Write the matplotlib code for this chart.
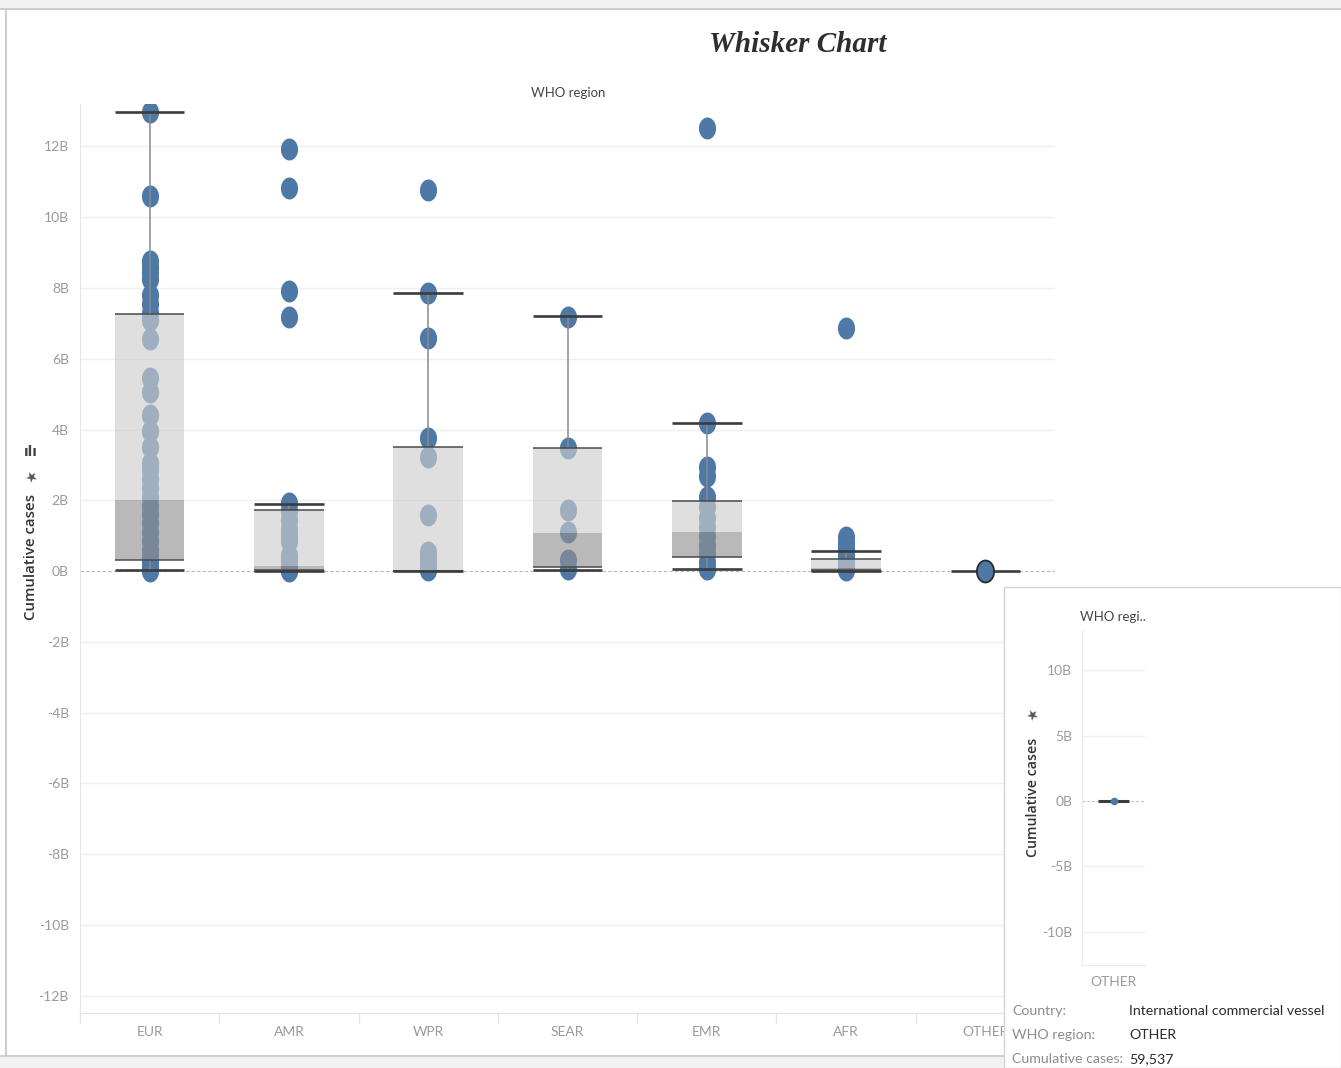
import numpy as np
import matplotlib
matplotlib.use("Agg")
import matplotlib.pyplot as plt
from matplotlib.path import Path
from matplotlib.patches import Rectangle
from matplotlib.lines import Line2D
from matplotlib.ticker import FuncFormatter, FixedLocator

# ---------------- data (billions) ----------------
regions = ["EUR", "AMR", "WPR", "SEAR", "EMR", "AFR", "OTHER"]

eur_cases = [12.97, 10.59, 8.75, 8.6, 8.45, 8.25, 7.8, 7.55, 7.3, 7.1, 6.55, 5.45,
             5.05, 4.4, 3.95, 3.5, 3.05, 2.85, 2.6, 2.35, 2.1, 1.85, 1.6, 1.35,
             1.1, 0.85, 0.6, 0.4, 0.25, 0.12, 0.05, 0.0]
amr_cases = [11.92, 10.82, 7.91, 7.18, 1.92, 1.7, 1.45, 1.2, 1.0, 0.85, 0.45, 0.3,
             0.12, 0.03, 0.0]
wpr_cases = [10.76, 7.85, 6.58, 3.76, 3.22, 1.58, 0.55, 0.4, 0.25, 0.1, 0.02]
sear_cases = [7.18, 3.47, 1.72, 1.1, 0.31, 0.05]
emr_cases = [12.51, 4.18, 2.95, 2.7, 2.09, 1.8, 1.5, 1.25, 1.0, 0.75, 0.5, 0.25, 0.05]
afr_cases = [6.86, 0.95, 0.8, 0.62, 0.45, 0.3, 0.15, 0.03]
other_cases = [0.0000595]

q1 = [0.31, 0.02, 0.01, 0.11, 0.40, 0.02, 0.0000595]
median = [2.0, 0.15, 0.03, 1.07, 1.10, 0.08, 0.0000595]
q3 = [7.26, 1.72, 3.50, 3.47, 1.98, 0.33, 0.0000595]
whisker_lo = [0.02, 0.0, 0.0, 0.02, 0.06, 0.0, 0.0000595]
whisker_hi = [12.97, 1.89, 7.85, 7.20, 4.18, 0.57, 0.0000595]

y_ticks = [-12, -10, -8, -6, -4, -2, 0, 2, 4, 6, 8, 10, 12]
inset_ticks = [-10, -5, 0, 5, 10]

tooltip_keys = ["Country:", "WHO region:", "Cumulative cases:"]
tooltip_vals = ["International commercial vessel", "OTHER", "59,537"]

all_cases = [eur_cases, amr_cases, wpr_cases, sear_cases, emr_cases, afr_cases, other_cases]

# ---------------- style ----------------
NARROW = "Lato"
BLUE = "#4e79a7"
W, H = 1341, 1068
fig = plt.figure(figsize=(W / 100, H / 100), dpi=100)
fig.patch.set_facecolor("white")

def fx(px):
    return px / W

def fy(py):
    return 1 - py / H

# ellipse marker (taller than wide)
t = np.linspace(0, 2 * np.pi, 64)
ell = Path(np.c_[0.78 * np.cos(t), np.sin(t)], closed=True)

# ---------------- main axes ----------------
ax = fig.add_axes([fx(80), fy(1013), fx(1055 - 80), (1013 - 104) / H])
ax.set_xlim(-0.5, 6.5)
ax.set_ylim(-12.49, 13.2)

for y in y_ticks:
    if y == 0:
        continue
    ax.axhline(y, color="#efefef", lw=1, zorder=0)
ax.axhline(0, color="#b8b8b8", lw=0.8, ls=(0, (3, 2)), zorder=1)

bw = 0.5
for i, vals in enumerate(all_cases):
    xs = np.full(len(vals), i)
    if regions[i] == "OTHER":
        continue
    ax.scatter(xs, vals, s=250, marker=ell, color=BLUE, linewidths=0, zorder=2)

for i in range(len(regions)):
    if regions[i] == "OTHER":
        continue
    ax.add_patch(Rectangle((i - bw / 2, median[i]), bw, q3[i] - median[i],
                           facecolor=(206 / 255,) * 3, alpha=0.64, lw=0, zorder=3))
    ax.add_patch(Rectangle((i - bw / 2, q1[i]), bw, median[i] - q1[i],
                           facecolor=(146 / 255,) * 3, alpha=0.64, lw=0, zorder=3))
    ax.vlines(i, q3[i], whisker_hi[i], color="#8a8a8a", lw=1.1, zorder=4)
    ax.vlines(i, whisker_lo[i], q1[i], color="#8a8a8a", lw=1.1, zorder=4)
    ax.hlines([q3[i], q1[i]], i - bw / 2, i + bw / 2, color="#4a4a4a", lw=1.1, zorder=5)
    ax.hlines([whisker_hi[i], whisker_lo[i]], i - bw / 2, i + bw / 2,
              color="#3c3c3c", lw=1.9, zorder=5)

# OTHER
io = regions.index("OTHER")
ax.hlines(whisker_hi[io], io - bw / 2, io + bw / 2, color="#3c3c3c", lw=1.9, zorder=5)
ax.scatter([io], other_cases, s=250, marker=ell, color=BLUE, edgecolors="#2a2a2a",
           linewidths=1.3, zorder=6)

ax.yaxis.set_major_locator(FixedLocator(y_ticks))
ax.yaxis.set_major_formatter(FuncFormatter(lambda v, p: f"{v:.0f}B"))
ax.set_xticks(range(len(regions)))
ax.set_xticklabels(regions)
ax.set_xticks(np.arange(-0.5, 6.6, 1), minor=True)
ax.tick_params(axis="y", length=0, pad=8, labelsize=10, labelcolor="#9a9a9a")
ax.tick_params(axis="x", which="major", length=0, pad=9, labelsize=10, labelcolor="#9a9a9a")
ax.tick_params(axis="x", which="minor", length=7, color="#e6e6e6", width=1)
for lab in ax.get_xticklabels() + ax.get_yticklabels():
    lab.set_family(NARROW)
for s in ["top", "right"]:
    ax.spines[s].set_visible(False)
ax.spines["left"].set_color("#e6e6e6")
ax.spines["bottom"].set_color("#e6e6e6")

fig.text(fx(568), fy(93), "WHO region", ha="center", va="center", fontsize=9.5,
         color="#444444", family=NARROW)
fig.text(fx(31), fy(557), "Cumulative cases", rotation=90, ha="center", va="center",
         fontsize=10.8, color="#333333", family="Open Sans", weight="semibold")
fig.text(fx(31), fy(477), "\u2605", ha="center", va="center", fontsize=10, color="#555555",
         rotation=30)
fig.text(fx(31), fy(452), "\u0131l\u0131", ha="center", va="center", fontsize=10,
         color="#444444", weight="bold")

fig.text(fx(798), fy(44), "Whisker Chart", ha="center", va="center", fontsize=21,
         family="Liberation Serif", weight="bold", style="italic", color="#2e2e2e")

# ---------------- window frame ----------------
fig.patches.append(Rectangle((0, fy(8)), 1, 8 / H, transform=fig.transFigure,
                             facecolor="#f2f2f2", edgecolor="none", zorder=0.5))
fig.lines.append(Line2D([0, 1], [fy(8.5)] * 2, transform=fig.transFigure,
                        color="#c4c4c4", lw=1.2, zorder=0.6))
fig.lines.append(Line2D([fx(5.5)] * 2, [fy(9), fy(1055)], transform=fig.transFigure,
                        color="#cfcfcf", lw=1.5, zorder=0.6))
fig.patches.append(Rectangle((0, 0), 1, 12 / H, transform=fig.transFigure,
                             facecolor="#f2f2f2", edgecolor="none", zorder=0.5))
fig.lines.append(Line2D([0, 1], [fy(1055.5)] * 2, transform=fig.transFigure,
                        color="#c8c8c8", lw=1.2, zorder=0.6))

# ---------------- tooltip / inset ----------------
fig.patches.append(Rectangle((fx(1004), 0), 1 - fx(1004), fy(587), transform=fig.transFigure,
                             facecolor="white", edgecolor="#d4d4d4", lw=1, zorder=1))

axi = fig.add_axes([fx(1082), fy(965), fx(1145 - 1082), (965 - 630) / H])
axi.set_zorder(2)
axi.set_facecolor("none")
axi.set_xlim(-0.5, 0.5)
axi.set_ylim(-12.56, 13.1)
for y in inset_ticks:
    if y != 0:
        axi.axhline(y, color="#efefef", lw=1, zorder=0)
axi.axhline(0, color="#c0c0c0", lw=0.7, ls=(0, (3, 2)), zorder=1)
axi.hlines(whisker_hi[io], -0.24, 0.24, color="#3c3c3c", lw=2.2, zorder=3)
axi.scatter([0], other_cases, s=30, color=BLUE, zorder=4, linewidths=0)
axi.yaxis.set_major_locator(FixedLocator(inset_ticks))
axi.yaxis.set_major_formatter(FuncFormatter(lambda v, p: f"{v:.0f}B"))
axi.set_xticks([0])
axi.set_xticklabels(["OTHER"])
axi.tick_params(axis="y", length=0, pad=7, labelsize=10, labelcolor="#9a9a9a")
axi.tick_params(axis="x", length=0, pad=8, labelsize=10, labelcolor="#9a9a9a")
for lab in axi.get_xticklabels() + axi.get_yticklabels():
    lab.set_family(NARROW)
for s in ["top", "right"]:
    axi.spines[s].set_visible(False)
axi.spines["left"].set_color("#ececec")
axi.spines["bottom"].set_color("#ececec")

fig.text(fx(1113), fy(617), "WHO regi..", ha="center", va="center", fontsize=9.5,
         color="#444444", family=NARROW, zorder=5)
fig.text(fx(1033), fy(797), "Cumulative cases", rotation=90, ha="center", va="center",
         fontsize=10.2, color="#333333", family="Open Sans", weight="semibold", zorder=5)
fig.text(fx(1032), fy(715), "\u2605", ha="center", va="center", fontsize=10, color="#555555",
         rotation=30, zorder=5)

rows_y = [1011, 1035, 1059]
for k, v, yy in zip(tooltip_keys, tooltip_vals, rows_y):
    fig.text(fx(1012), fy(yy), k, ha="left", va="center", fontsize=10.2,
             color="#8c8c8c", family=NARROW, zorder=5)
    fig.text(fx(1129), fy(yy), v, ha="left", va="center", fontsize=10.2,
             color="#2a2a2a", family=NARROW, zorder=5)

fig.savefig("out.png", dpi=100)
